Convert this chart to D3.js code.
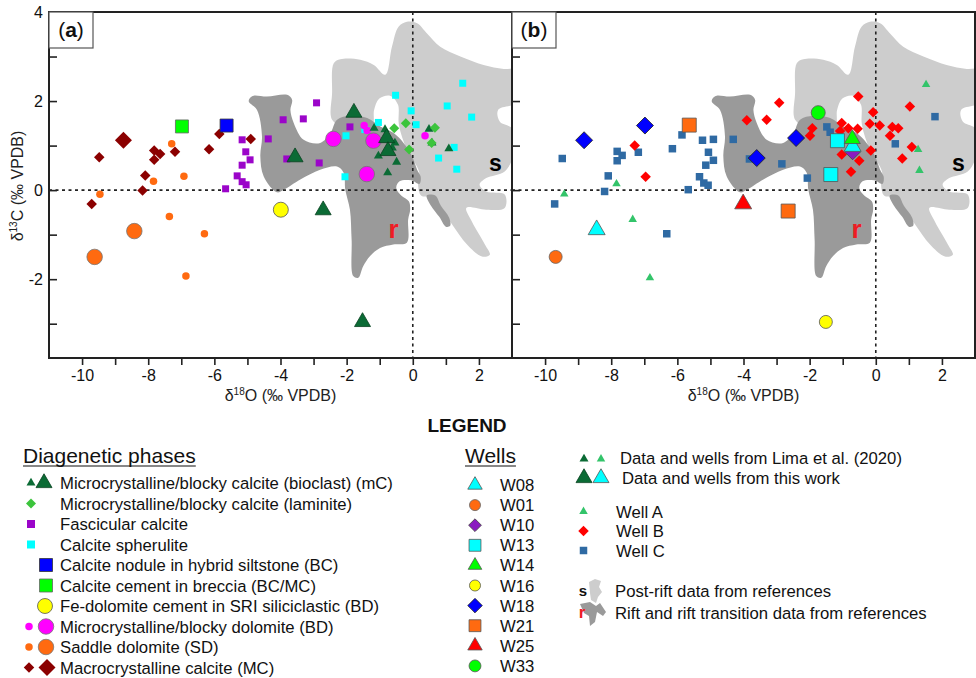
<!DOCTYPE html>
<html>
<head>
<meta charset="utf-8">
<script src="https://cdn.jsdelivr.net/npm/d3@7"></script>
<style>
  body { margin: 0; background: #fff; }
  svg { display: block; font-family: "Liberation Sans", Arial, sans-serif; }
</style>
</head>
<body>
<div class="chart"></div>
<script>
// ---- data: [d18O, d13C] ----

// panel (a) diagenetic phases
let mcLima = [[-1.17,1.39],[-0.84,1.36],[-1.04,0.77],[-0.49,0.63],[-0.76,0.39],[-0.54,1.06],[0.49,1.37],[0.58,1.06],[1.09,0.93],[-0.62,0.95]];
let mcThisWork = [[-1.78,1.74],[-3.56,0.74],[-0.79,1.17],[-0.75,0.88],[-2.71,-0.45],[-1.52,-2.96]];
let laminite = [[-0.56,1.39],[-0.21,1.50],[0.67,1.40],[-0.11,0.91],[0.57,1.06]];
let fascicular = [[-5.16,1.13],[-5.05,0.86],[-4.92,0.68],[-5.16,0.56],[-5.31,0.32],[-5.16,0.19],[-5.04,0.12],[-5.66,0.03],
  [-4.37,1.15],[-2.91,1.96],[-3.92,1.58],[-3.31,1.60],[-3.81,0.70],[-2.83,0.61],[-1.90,1.42]];
let spherulite = [[1.51,2.40],[-0.52,2.13],[-0.05,1.78],[1.04,1.89],[1.78,1.64],[-1.04,1.52],[0.10,1.47],[-2.02,1.22],
  [1.25,0.96],[0.78,0.72],[1.33,0.47],[-2.05,0.30],[-1.45,1.36]];
let nodule = [[-5.63,1.45]];
let breccia = [[-6.98,1.43]];
let feDolomite = [[-3.99,-0.44]];
let dolomiteSmall = [[-1.47,1.45],[-1.38,1.34],[0.37,1.22]];
let dolomiteLarge = [[-2.40,1.15],[-1.19,1.11],[-1.39,0.36]];
let saddleSmall = [[-7.29,1.04],[-7.84,0.20],[-6.92,0.31],[-9.46,-0.09],[-7.36,-0.59],[-6.30,-0.98],[-6.86,-1.93]];
let saddleLarge = [[-8.42,-0.92],[-9.62,-1.50]];
let macroSmall = [[-9.48,0.74],[-9.71,-0.31],[-8.17,-0.01],[-8.09,0.33],[-7.82,0.68],[-7.82,0.89],[-7.64,0.81],
  [-7.19,0.86],[-6.16,0.92],[-5.85,1.26],[-4.90,1.15]];
let macroLarge = [[-8.75,1.12]];

// panel (b) wells
let wellA = [[-9.42,-0.09],[-7.84,0.14],[-7.35,-0.66],[-6.83,-1.97],[1.52,2.37],[1.28,0.91],[1.32,0.44]];
let wellB = [[-7.29,1.0],[-6.96,0.30],[-3.90,1.57],[-2.92,1.96],[-3.30,1.58],[-1.92,1.39],[-1.99,1.22],[-0.53,2.10],
  [-1.03,1.51],[-0.83,1.39],[-1.08,1.33],[-0.55,1.38],[-0.18,1.49],[0.12,1.45],[-0.08,1.75],[-1.03,0.80],[-0.50,0.66],
  [-0.15,0.89],[-0.75,0.41],[1.03,1.88],[0.50,1.42],[0.68,1.39],[0.43,1.22],[1.09,0.97],[0.80,0.71]];
let wellC = [[-9.48,0.71],[-9.71,-0.31],[-8.09,0.32],[-8.20,-0.03],[-7.82,0.87],[-7.67,0.78],[-7.82,0.66],[-7.18,0.85],
  [-6.15,0.93],[-5.86,1.24],[-6.32,-0.98],[-5.67,0.01],[-5.24,1.12],[-4.91,1.14],[-5.06,0.85],[-4.91,0.67],[-5.14,0.56],
  [-5.33,0.30],[-5.20,0.16],[-5.07,0.11],[-4.31,1.14],[-3.82,0.70],[-2.84,0.59],[-2.07,0.27],[-1.48,1.42],[-1.38,1.30],
  [0.59,1.04],[1.79,1.65]];
let w08 = [[-8.44,-0.89],[-0.70,0.98]];
let w01 = [[-9.68,-1.50]];
let w10 = [[-0.70,0.85]];
let w13 = [[-1.16,1.11],[-1.36,0.35]];
let w14 = [[-0.71,1.15]];
let w16 = [[-1.51,-2.96]];
let w18 = [[-8.82,1.12],[-6.98,1.45],[-3.60,0.72],[-2.41,1.17]];
let w21 = [[-5.64,1.46],[-2.65,-0.47]];
let w25 = [[-4.01,-0.31]];
let w33 = [[-1.74,1.74]];

// reference fields (outlines in data units)
let postRift = [[-2.44,1.58],[-2.44,2.18],[-2.39,2.85],[-2.19,2.94],[-1.59,2.93],[-1.18,2.81],[-0.83,2.59],[-0.63,3.22],
  [-0.43,3.67],[-0.18,3.78],[0.13,3.75],[0.43,3.52],[0.83,3.22],[1.44,3.0],[2.14,2.81],[2.75,2.72],[3.2,2.70],[3.2,1.99],
  [2.58,1.80],[2.63,1.54],[3.05,1.36],[3.05,0.80],[2.78,0.42],[2.22,0.27],[2.02,0.12],[2.22,-0.03],[2.78,-0.10],
  [2.78,-0.40],[2.22,-0.44],[1.62,-0.40],[1.79,-0.71],[2.18,-1.22],[2.33,-1.45],[2.09,-1.49],[1.64,-1.22],[1.19,-0.77],
  [0.88,-0.44],[0.58,-0.17],[0.25,-0.12],[0.16,0.12],[0.19,0.41],[-0.18,0.91],[-0.42,1.47],[-0.45,1.92],[-0.69,2.12],
  [-1.02,2.05],[-1.17,1.80],[-1.23,1.45],[-2.0,1.4]];
let rift = [[-4.96,1.99],[-4.91,2.08],[-4.81,2.12],[-4.41,2.10],[-3.80,2.14],[-3.65,2.03],[-3.70,1.80],[-3.60,1.51],
  [-3.30,1.13],[-2.80,1.06],[-2.49,1.28],[-2.29,1.58],[-1.89,1.67],[-1.38,1.62],[-0.98,1.43],[-0.58,1.28],[-0.28,1.06],
  [-0.02,0.76],[0.13,0.46],[0.24,0.3],[0.2,0.14],[-0.05,0.22],[-0.4,0.2],[-0.5,0.05],[-0.35,-0.12],[-0.12,-0.25],
  [-0.08,-0.44],[-0.14,-0.66],[-0.18,-1.18],[-0.59,-1.22],[-0.99,-1.30],[-1.29,-1.48],[-1.50,-1.71],[-1.65,-1.97],
  [-1.80,-1.93],[-1.85,-1.11],[-1.9,-0.44],[-2.04,0.01],[-2.09,0.39],[-2.29,0.53],[-2.80,0.46],[-3.40,0.24],
  [-3.90,0.01],[-4.11,-0.05],[-4.51,0.31],[-4.61,0.76],[-4.56,1.21],[-4.71,1.80]];
let riftTail = [[0.42,-0.12],[0.68,-0.12],[0.85,-0.35],[1.1,-0.62],[1.13,-0.8],[1.0,-0.82],[0.8,-0.6],[0.55,-0.35]];

let xTicks = [-10,-9,-8,-7,-6,-5,-4,-3,-2,-1,0,1,2];
let yTicks = [-3,-2,-1,0,1,2,3,4];

let phaseLabels = ["Microcrystalline/blocky calcite (bioclast) (mC)", "Microcrystalline/blocky calcite (laminite)",
  "Fascicular calcite", "Calcite spherulite", "Calcite nodule in hybrid siltstone (BC)", "Calcite cement in breccia (BC/MC)",
  "Fe-dolomite cement in SRI siliciclastic (BD)", "Microcrystalline/blocky dolomite (BD)", "Saddle dolomite (SD)",
  "Macrocrystalline calcite (MC)"];
let wellLabels = ["W08","W01","W10","W13","W14","W16","W18","W21","W25","W33"];

// ---- layout ----
let svgWidth = 976, svgHeight = 678;
let plotTop = 12, plotBottom = 358;

let svg = d3.select(".chart").append("svg")
  .attr("width", svgWidth)
  .attr("height", svgHeight);

let y = d3.scaleLinear().domain([-3.77, 4]).range([plotBottom, plotTop]);
let xA = d3.scaleLinear().domain([-11, 3]).range([49, 512]);
let xB = d3.scaleLinear().domain([-11, 3]).range([512, 975]);

// marker styles
let sty = {
  mcS: {shape:"triangle", w:9, fill:"#0b6b35"},
  mcL: {shape:"triangle", w:16, fill:"#0b6b35", stroke:"#07411f"},
  lam: {shape:"diamond", w:10, fill:"#3cc43c"},
  fas: {shape:"square", w:7, fill:"#9b05c9"},
  sph: {shape:"square", w:7, fill:"#00ffff"},
  nod: {shape:"square", w:13, fill:"#0000ff", stroke:"#333"},
  bre: {shape:"square", w:13, fill:"#00ff00", stroke:"#666"},
  fed: {shape:"circle", w:15, fill:"#ffff00", stroke:"#555"},
  dolS: {shape:"circle", w:7.5, fill:"#ff00ff"},
  dolL: {shape:"circle", w:15.5, fill:"#ff00ff", stroke:"#777"},
  sadS: {shape:"circle", w:7.5, fill:"#ff6a10"},
  sadL: {shape:"circle", w:15.5, fill:"#ff6a10", stroke:"#777"},
  macS: {shape:"diamond", w:10.5, fill:"#8b0000"},
  macL: {shape:"diamond", w:17, fill:"#8b0000"},
  wA: {shape:"triangle", w:8.5, fill:"#33c46a"},
  wB: {shape:"diamond", w:10.5, fill:"#ff0000"},
  wC: {shape:"square", w:7.5, fill:"#2f6aa3"},
  w08: {shape:"triangle", w:17, fill:"#00ffff", stroke:"#555"},
  w01: {shape:"circle", w:13, fill:"#ff6a10", stroke:"#666"},
  w10: {shape:"diamond", w:15, fill:"#8a1cc0", stroke:"#444"},
  w13: {shape:"square", w:14, fill:"#00ffff", stroke:"#555"},
  w14: {shape:"triangle", w:16, fill:"#00ff00", stroke:"#555"},
  w16: {shape:"circle", w:13, fill:"#ffff00", stroke:"#555"},
  w18: {shape:"diamond", w:17, fill:"#0000ff", stroke:"#222"},
  w21: {shape:"square", w:14, fill:"#ff6a10", stroke:"#555"},
  w25: {shape:"triangle", w:17, fill:"#ff0000", stroke:"#555"},
  w33: {shape:"circle", w:14, fill:"#00ff00", stroke:"#555"}
};

function symPath(s, w) {
  let type, size;
  if (s === "circle") { type = d3.symbolCircle; size = Math.PI * w * w / 4; }
  else if (s === "square") { type = d3.symbolSquare; size = w * w; }
  else if (s === "diamond") { type = d3.symbolSquare; size = w * w / 2; }
  else { type = d3.symbolTriangle; size = w * w * Math.sqrt(3) / 4; }
  return d3.symbol().type(type).size(size)();
}

function marker(g, st, px, py) {
  return g.append("path")
    .attr("d", symPath(st.shape, st.w))
    .attr("transform", `translate(${px},${py})` + (st.shape === "diamond" ? " rotate(45)" : ""))
    .attr("fill", st.fill)
    .attr("stroke", st.stroke || "none")
    .attr("stroke-width", 0.8);
}

function drawPoints(g, x, data, st) {
  data.forEach(d => marker(g, st, x(d[0]), y(d[1])));
}

// one scatter panel with fields, axes and frame
function drawPanel(x, id, letter, showYLabels) {
  let x0 = x.range()[0], x1 = x.range()[1];
  svg.append("clipPath").attr("id", "clip" + id)
    .append("rect").attr("x", x0).attr("y", plotTop).attr("width", x1 - x0).attr("height", plotBottom - plotTop);
  let g = svg.append("g").attr("clip-path", `url(#clip${id})`);

  let area = d3.line().x(d => x(d[0])).y(d => y(d[1])).curve(d3.curveCatmullRomClosed.alpha(0.5));
  g.append("path").attr("d", area(postRift)).attr("fill", "#cdcdcd");
  g.append("path").attr("d", area(rift)).attr("fill", "#9a9a9a");
  g.append("path").attr("d", area(riftTail)).attr("fill", "#9a9a9a");

  // zero lines
  g.append("line").attr("x1", x0).attr("x2", x1).attr("y1", y(0)).attr("y2", y(0))
    .attr("stroke", "#222").attr("stroke-width", 1.6).attr("stroke-dasharray", "3,3.5");
  g.append("line").attr("x1", x(0)).attr("x2", x(0)).attr("y1", plotTop).attr("y2", plotBottom)
    .attr("stroke", "#222").attr("stroke-width", 1.6).attr("stroke-dasharray", "3,3.5");

  g.append("text").attr("x", x(2.5)).attr("y", y(0.6)).attr("dy", "0.35em")
    .attr("text-anchor", "middle").attr("font-size", 23).attr("font-weight", "bold").text("s");
  g.append("text").attr("x", x(-0.58)).attr("y", y(-0.87)).attr("dy", "0.35em")
    .attr("text-anchor", "middle").attr("font-size", 26).attr("font-weight", "bold")
    .attr("fill", "#ee1c24").text("r");

  // x axis
  let xAxis = svg.append("g")
    .attr("transform", `translate(0, ${plotBottom})`)
    .call(d3.axisBottom(x).tickValues(xTicks).tickSize(7).tickPadding(5)
      .tickFormat(d => d % 2 === 0 ? String(d) : ""));
  xAxis.select(".domain").remove();
  xAxis.selectAll("line").attr("stroke", "#222").attr("stroke-width", 1.6);
  xAxis.selectAll("text").attr("font-size", 16).attr("fill", "#111")
    .attr("font-family", "Liberation Sans, Arial, sans-serif");

  // y axis (ticks inside)
  let yAxis = svg.append("g")
    .attr("transform", `translate(${x0}, 0)`)
    .call(d3.axisLeft(y).tickValues(yTicks).tickSize(-8).tickPadding(6)
      .tickFormat(d => showYLabels && d % 2 === 0 ? String(d) : ""));
  yAxis.select(".domain").remove();
  yAxis.selectAll("line").attr("stroke", "#222").attr("stroke-width", 1.6);
  yAxis.selectAll("text").attr("font-size", 16).attr("fill", "#111")
    .attr("font-family", "Liberation Sans, Arial, sans-serif");

  // x title
  let xt = svg.append("text").attr("x", (x0 + x1) / 2).attr("y", 401)
    .attr("text-anchor", "middle").attr("font-size", 16).attr("fill", "#222");
  xt.append("tspan").text("δ");
  xt.append("tspan").attr("font-size", 10).attr("dy", -6).text("18");
  xt.append("tspan").attr("dy", 6).text("O (‰ VPDB)");

  return {g: g, x0: x0, x1: x1, letter: letter};
}

function drawFrame(p) {
  svg.append("rect").attr("x", p.x0).attr("y", plotTop).attr("width", p.x1 - p.x0).attr("height", plotBottom - plotTop)
    .attr("fill", "none").attr("stroke", "#222").attr("stroke-width", 2);
  svg.append("rect").attr("x", p.x0).attr("y", plotTop).attr("width", 44).attr("height", 36)
    .attr("fill", "#fff").attr("stroke", "#555").attr("stroke-width", 1.2);
  let t = svg.append("text").attr("x", p.x0 + 22).attr("y", plotTop + 25)
    .attr("text-anchor", "middle").attr("font-size", 21).attr("fill", "#111");
  t.append("tspan").text("(");
  t.append("tspan").attr("font-weight", "bold").text(p.letter);
  t.append("tspan").text(")");
}

// ---- panel (a) ----
let pa = drawPanel(xA, "a", "a", true);
drawPoints(pa.g, xA, fascicular, sty.fas);
drawPoints(pa.g, xA, spherulite, sty.sph);
drawPoints(pa.g, xA, macroSmall, sty.macS);
drawPoints(pa.g, xA, macroLarge, sty.macL);
drawPoints(pa.g, xA, saddleSmall, sty.sadS);
drawPoints(pa.g, xA, saddleLarge, sty.sadL);
drawPoints(pa.g, xA, breccia, sty.bre);
drawPoints(pa.g, xA, nodule, sty.nod);
drawPoints(pa.g, xA, feDolomite, sty.fed);
drawPoints(pa.g, xA, dolomiteSmall, sty.dolS);
drawPoints(pa.g, xA, dolomiteLarge, sty.dolL);
drawPoints(pa.g, xA, mcLima, sty.mcS);
drawPoints(pa.g, xA, laminite, sty.lam);
drawPoints(pa.g, xA, mcThisWork, sty.mcL);

// ---- panel (b) ----
let pb = drawPanel(xB, "b", "b", false);
drawPoints(pb.g, xB, wellC, sty.wC);
drawPoints(pb.g, xB, wellB, sty.wB);
drawPoints(pb.g, xB, wellA, sty.wA);
drawPoints(pb.g, xB, w01, sty.w01);
drawPoints(pb.g, xB, w16, sty.w16);
drawPoints(pb.g, xB, w18, sty.w18);
drawPoints(pb.g, xB, w21, sty.w21);
drawPoints(pb.g, xB, w25, sty.w25);
drawPoints(pb.g, xB, w13, sty.w13);
drawPoints(pb.g, xB, w33, sty.w33);
drawPoints(pb.g, xB, w10, sty.w10);
drawPoints(pb.g, xB, w08, sty.w08);
drawPoints(pb.g, xB, w14, sty.w14);

drawFrame(pa);
drawFrame(pb);

// y title
let yt = svg.append("text").attr("transform", "translate(23,186) rotate(-90)")
  .attr("text-anchor", "middle").attr("font-size", 16).attr("fill", "#222");
yt.append("tspan").text("δ");
yt.append("tspan").attr("font-size", 10).attr("dy", -6).text("13");
yt.append("tspan").attr("dy", 6).text("C (‰ VPDB)");

// ---- legend ----
svg.append("text").attr("x", 467).attr("y", 432).attr("text-anchor", "middle")
  .attr("font-size", 19).attr("font-weight", "bold").attr("fill", "#111").text("LEGEND");

function heading(x, yy, txt) {
  let t = svg.append("text").attr("x", x).attr("y", yy).attr("font-size", 21).attr("fill", "#111").text(txt);
  let w = t.node().getComputedTextLength();
  svg.append("line").attr("x1", x).attr("x2", x + w).attr("y1", yy + 3).attr("y2", yy + 3)
    .attr("stroke", "#111").attr("stroke-width", 1.2);
}
heading(23, 463, "Diagenetic phases");
heading(465, 463, "Wells");

let phaseSyms = [
  [[31, sty.mcS], [44, sty.mcL]],
  [[31, sty.lam]],
  [[31, {shape:"square", w:8, fill:sty.fas.fill}]],
  [[31, {shape:"square", w:8, fill:sty.sph.fill}]],
  [[46, sty.nod]],
  [[46, sty.bre]],
  [[45, sty.fed]],
  [[29, sty.dolS], [46, sty.dolL]],
  [[29, sty.sadS], [46, sty.sadL]],
  [[29, sty.macS], [47, sty.macL]]
];
phaseLabels.forEach((lab, i) => {
  let cy = 483 + i * 20.5;
  phaseSyms[i].forEach(s => marker(svg, s[1], s[0], cy));
  svg.append("text").attr("x", 60).attr("y", cy + 6).attr("font-size", 16.7).attr("fill", "#111").text(lab);
});

let wellSyms = [sty.w08, sty.w01, sty.w10, sty.w13, sty.w14, sty.w16, sty.w18, sty.w21, sty.w25, sty.w33];
wellLabels.forEach((lab, i) => {
  let cy = 485 + i * 20.1;
  let s = Object.assign({}, wellSyms[i], {w: wellSyms[i].w * 0.85});
  marker(svg, s, 475, cy);
  svg.append("text").attr("x", 500).attr("y", cy + 6).attr("font-size", 16.7).attr("fill", "#111").text(lab);
});

// right column
marker(svg, sty.mcS, 584, 459);
marker(svg, sty.wA, 601, 459);
svg.append("text").attr("x", 620).attr("y", 464).attr("font-size", 16.7).attr("fill", "#111")
  .text("Data and wells from Lima et al. (2020)");
marker(svg, sty.mcL, 584, 478);
marker(svg, Object.assign({}, sty.w08, {w: 16}), 601, 478);
svg.append("text").attr("x", 622).attr("y", 484).attr("font-size", 16.7).attr("fill", "#111")
  .text("Data and wells from this work");

[["Well A", sty.wA], ["Well B", sty.wB], ["Well C", sty.wC]].forEach((r, i) => {
  let cy = 511.5 + i * 19.5;
  marker(svg, r[1], 583.5, cy);
  svg.append("text").attr("x", 616).attr("y", cy + 6).attr("font-size", 16.7).attr("fill", "#111").text(r[0]);
});

// field icons
svg.append("path").attr("fill", "#cdcdcd")
  .attr("d", "M589,582 L595,579 L601,581 L599,587 L602,592 L598,597 L596,603 L591,600 L590,593 Z");
svg.append("text").attr("x", 583).attr("y", 596).attr("text-anchor", "middle")
  .attr("font-size", 15).attr("font-weight", "bold").attr("fill", "#111").text("s");
svg.append("text").attr("x", 615).attr("y", 597).attr("font-size", 16.7).attr("fill", "#111")
  .text("Post-rift data from references");
svg.append("path").attr("fill", "#9a9a9a")
  .attr("d", "M580,604 L590,602 L596,606 L600,603 L606,612 L603,616 L597,612 L595,622 L590,626 L589,616 L584,613 Z");
svg.append("text").attr("x", 582).attr("y", 618).attr("text-anchor", "middle")
  .attr("font-size", 17).attr("font-weight", "bold").attr("fill", "#ee1c24").text("r");
svg.append("text").attr("x", 615).attr("y", 619).attr("font-size", 16.7).attr("fill", "#111")
  .text("Rift and rift transition data from references");
</script>
</body>
</html>
